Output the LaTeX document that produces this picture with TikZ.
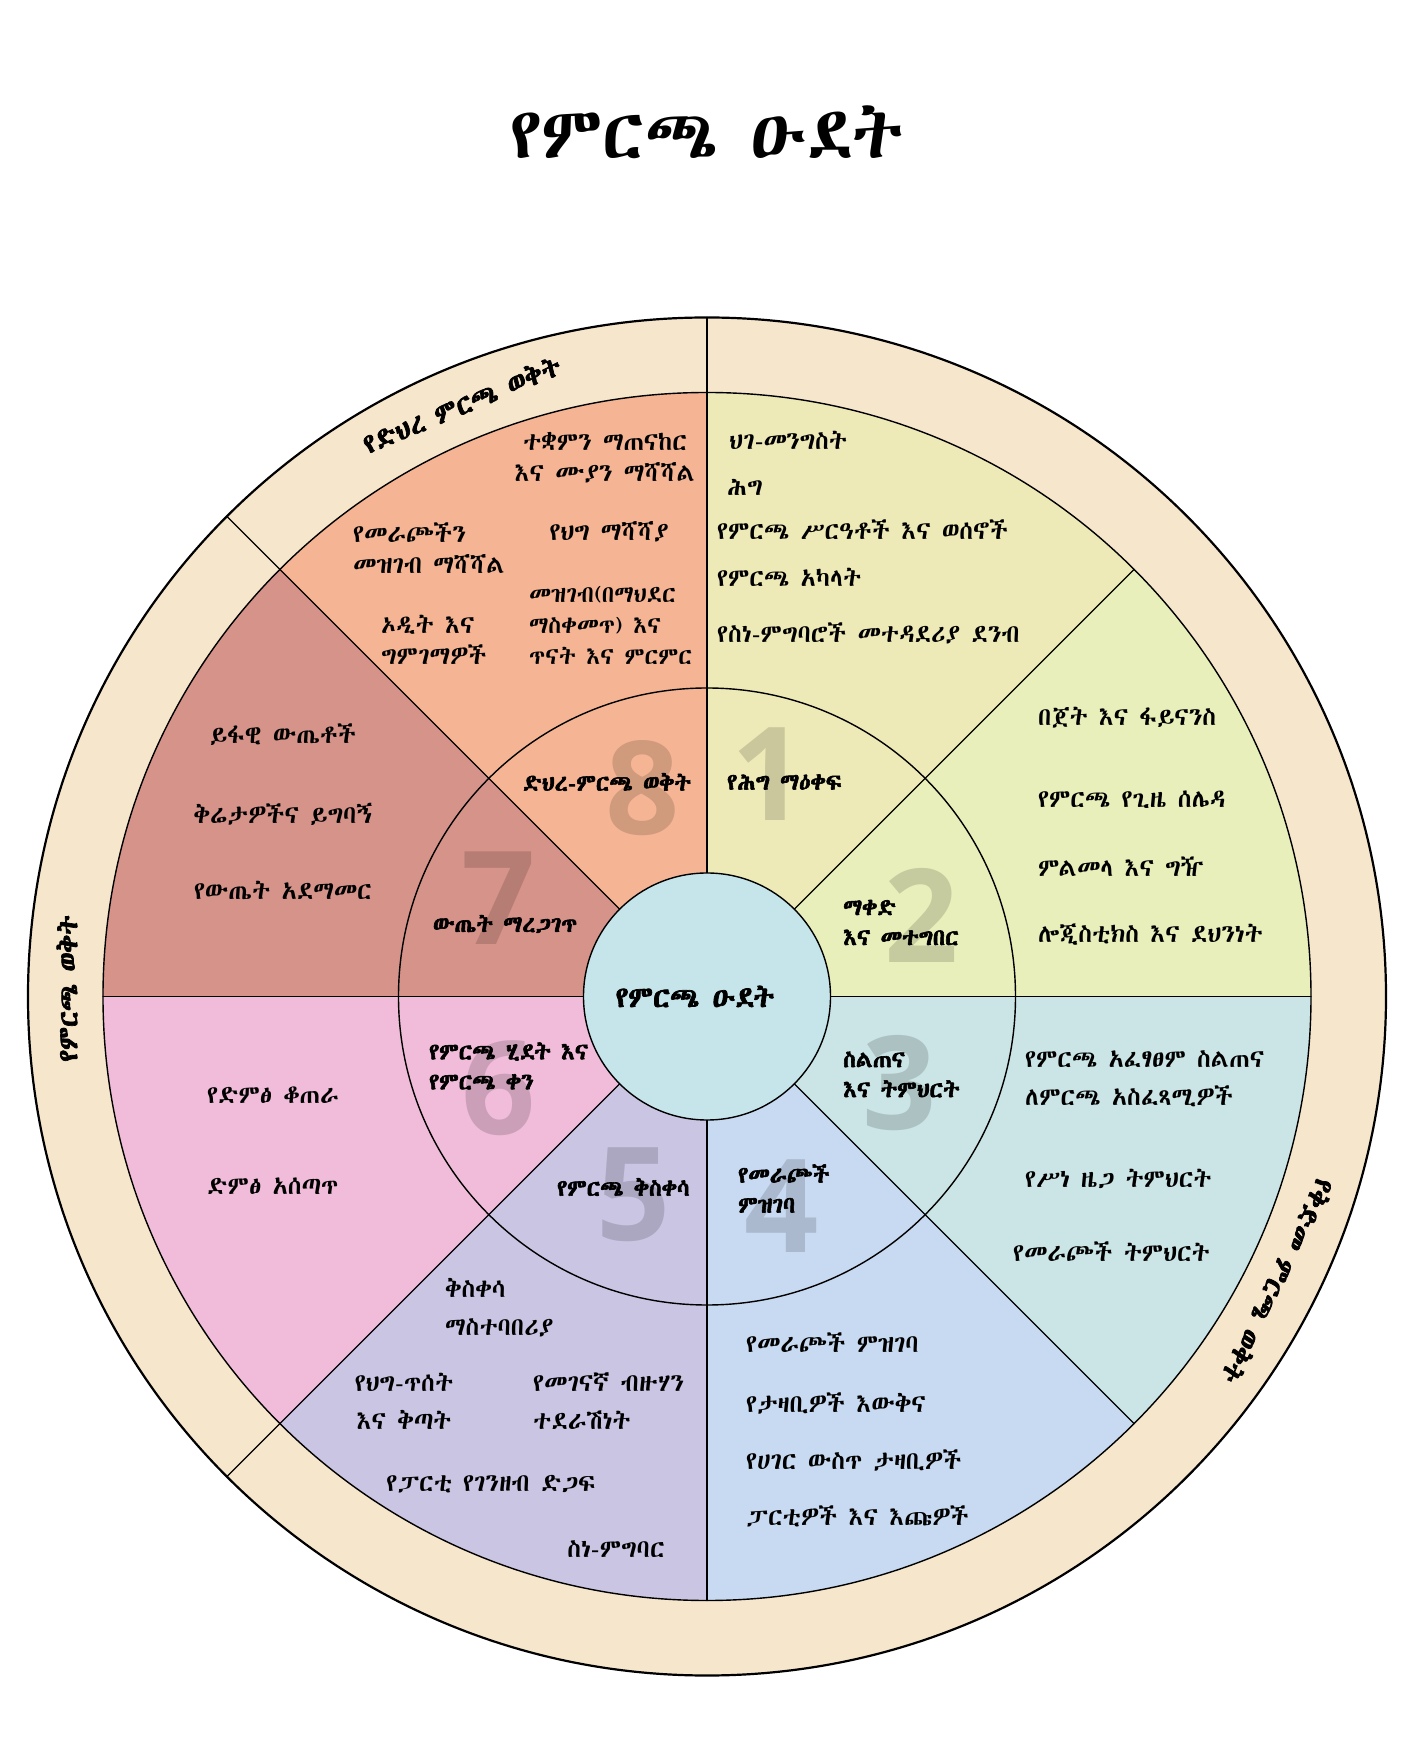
\documentclass[tikz,border=0pt]{standalone}
\usepackage{fontspec}
\newfontfamily\ethfont[BoldFont={Abyssinica SIL}, BoldFeatures={FakeBold=2.5}]{Abyssinica SIL}
\newfontfamily\numfont{Open Sans}
\definecolor{band}{HTML}{F6E6CC}
\definecolor{secA}{HTML}{EEEAB8}
\definecolor{secB}{HTML}{E8EFBA}
\definecolor{secC}{HTML}{CBE4E5}
\definecolor{secD}{HTML}{C8DAF1}
\definecolor{secE}{HTML}{C9C5E3}
\definecolor{secF}{HTML}{F0BCDA}
\definecolor{secG}{HTML}{D6938A}
\definecolor{secH}{HTML}{F5B594}
\definecolor{hub}{HTML}{C6E5EB}
\begin{document}
\begin{tikzpicture}[x=1pt, y=1pt, line join=round, line cap=round,
	txt/.style={inner sep=0pt, font=\ethfont\fontsize{25}{31}\selectfont},
	wide/.style={inner sep=0pt, font=\ethfont\fontsize{25}{38}\selectfont},
	lbl/.style={inner sep=0pt, font=\ethfont\bfseries\fontsize{23}{30}\selectfont},
	bandtxt/.style={inner sep=0pt, font=\ethfont\bfseries\fontsize{27}{30}\selectfont},
	num/.style={inner sep=0pt, font=\numfont\bfseries\fontsize{130}{130}\selectfont, text=black, text opacity=0.15}]
	\def\rout{679} \def\rband{604} \def\rring{308.5} \def\rhub{123.5}
	\useasboundingbox (-707,-763.5) rectangle (707,996.5);
	\fill[white] (-707,-763.5) rectangle (707,996.5);
	% title
	\node[inner sep=0pt, font=\ethfont\fontsize{72}{72}\selectfont] (title) at (0,864.5) {የምርጫ ዑደት};
	% outer band and sectors
	\draw[line width=2.2pt, fill=band] (0,0) circle (\rout);
	\foreach \a/\c in {45/secA,0/secB,315/secC,270/secD,225/secE,180/secF,135/secG,90/secH}
		\fill[\c] (0,0) -- (\a:\rband) arc (\a:\a+45:\rband) -- cycle;
	\draw[line width=1.4pt] (0,0) circle (\rband);
	\draw[line width=1.4pt] (0,0) circle (\rring);
	\foreach \a in {0,45,...,315} \draw[line width=1.4pt] (\a:\rhub) -- (\a:\rband);
	\foreach \a in {90,135,225} \draw[line width=1.4pt] (\a:\rband) -- (\a:\rout);
	\draw[line width=1.4pt, fill=hub] (0,0) circle (\rhub);
	% band labels
	\node[bandtxt, rotate=22.5] (post) at (112.5:641) {የድህረ ምርጫ ወቅት};
	\node[bandtxt, rotate=90] (during) at (-640,8) {የምርጫ ወቅት};
	\node[bandtxt, rotate=-116] (pre) at (-26.5:638) {የቅድመ ምርጫ ወቅት};
	% big numbers
	\node[num] (n1) at (62,222) {1};
	\node[num] (n2) at (215,81.5) {2};
	\node[num] (n3) at (193,-86.5) {3};
	\node[num] (n4) at (75,-209.5) {4};
	\node[num] (n5) at (-73,-198.5) {5};
	\node[num] (n6) at (-208,-92) {6};
	\node[num] (n7) at (-208,98.5) {7};
	\node[num] (n8) at (-64,208.5) {8};
	% centre and stage names
	\node[inner sep=0pt, font=\ethfont\bfseries\fontsize{29}{32}\selectfont] (cycle) at (-12,0) {የምርጫ ዑደት};
	\node[lbl] (l8) at (-100,214.5) {ድህረ-ምርጫ ወቅት};
	\node[lbl, anchor=west] (l1) at (20,214.5) {የሕግ ማዕቀፍ};
	\node[lbl, anchor=west, align=left] (l2) at (136,74) {ማቀድ\\እና መተግበር};
	\node[lbl, anchor=west, align=left] (l3) at (136,-78) {ስልጠና\\እና ትምህርት};
	\node[lbl, anchor=west, align=left] (l4) at (31,-192) {የመራጮች\\ምዝገባ};
	\node[lbl, anchor=west] (l5) at (-150,-190.5) {የምርጫ ቅስቀሳ};
	\node[lbl, anchor=west, align=left] (l6) at (-278,-69.5) {የምርጫ ሂደት እና\\የምርጫ ቀን};
	\node[lbl] (l7) at (-202,72.5) {ውጤት ማረጋገጥ};
	% sector 1
	\node[txt, anchor=west] (s1a) at (22,556.5) {ህገ-መንግስት};
	\node[txt, anchor=west] (s1b) at (20,509.5) {ሕግ};
	\node[txt, anchor=west] (s1c) at (10,466.5) {የምርጫ ሥርዓቶች እና ወሰኖች};
	\node[txt, anchor=west] (s1d) at (10,419.5) {የምርጫ አካላት};
	\node[txt, anchor=west] (s1e) at (10,363.5) {የስነ-ምግባሮች መተዳደሪያ ደንብ};
	% sector 2
	\node[txt, anchor=west] (s2a) at (331,278.5) {በጀት እና ፋይናንስ};
	\node[txt, anchor=west] (s2b) at (331,196.5) {የምርጫ የጊዜ ሰሌዳ};
	\node[txt, anchor=west] (s2c) at (331,129.5) {ምልመላ እና ግዥ};
	\node[txt, anchor=west] (s2d) at (331,61.5) {ሎጂስቲክስ እና ደህንነት};
	% sector 3
	\node[wide, anchor=west, align=left] (s3a) at (318,-82) {የምርጫ አፈፃፀም ስልጠና\\ለምርጫ አስፈጻሚዎች};
	\node[txt, anchor=west] (s3b) at (318,-182.5) {የሥነ ዜጋ ትምህርት};
	\node[txt, anchor=west] (s3c) at (306,-255.5) {የመራጮች ትምህርት};
	% sector 4
	\node[txt, anchor=west] (s4a) at (39,-346.5) {የመራጮች ምዝገባ};
	\node[txt, anchor=west] (s4b) at (39,-406.5) {የታዛቢዎች እውቅና};
	\node[txt, anchor=west] (s4c) at (39,-463.5) {የሀገር ውስጥ ታዛቢዎች};
	\node[txt, anchor=west] (s4d) at (39,-519.5) {ፓርቲዎች እና እጩዎች};
	% sector 5
	\node[wide, anchor=west, align=left] (s5a) at (-262,-311.5) {ቅስቀሳ\\ማስተባበሪያ};
	\node[wide, align=center] (s5b) at (-303,-404.5) {የህግ-ጥሰት\\እና ቅጣት};
	\node[wide, anchor=west, align=left] (s5c) at (-174,-404.5) {የመገናኛ ብዙሃን\\ተደራሽነት};
	\node[txt] (s5d) at (-216,-487.5) {የፓርቲ የገንዘብ ድጋፍ};
	\node[txt] (s5e) at (-91,-552.5) {ስነ-ምግባር};
	% sector 6
	\node[txt, anchor=west] (s6a) at (-500,-98.5) {የድምፅ ቆጠራ};
	\node[txt, anchor=west] (s6b) at (-500,-189.5) {ድምፅ አሰጣጥ};
	% sector 7
	\node[txt] (s7a) at (-424,261.5) {ይፋዊ ውጤቶች};
	\node[txt] (s7b) at (-424,182.5) {ቅሬታዎችና ይግባኝ};
	\node[txt] (s7c) at (-424,106.5) {የውጤት አደማመር};
	% sector 8
	\node[txt, align=center] (s8a) at (-102,539) {ተቋምን ማጠናከር\\እና ሙያን ማሻሻል};
	\node[txt, anchor=west, align=left] (s8b) at (-354,448) {የመራጮችን\\መዝገብ ማሻሻል};
	\node[txt] (s8c) at (-98,464.5) {የህግ ማሻሻያ};
	\node[txt, anchor=west, align=left, font=\ethfont\fontsize{23.5}{31}\selectfont] (s8d) at (-178,371.5) {መዝገብ(በማህደር\\ማስቀመጥ) እና\\ጥናት እና ምርምር};
	\node[txt, anchor=west, align=left] (s8e) at (-326,356.5) {ኦዲት እና\\ግምገማዎች};
\end{tikzpicture}
\end{document}
